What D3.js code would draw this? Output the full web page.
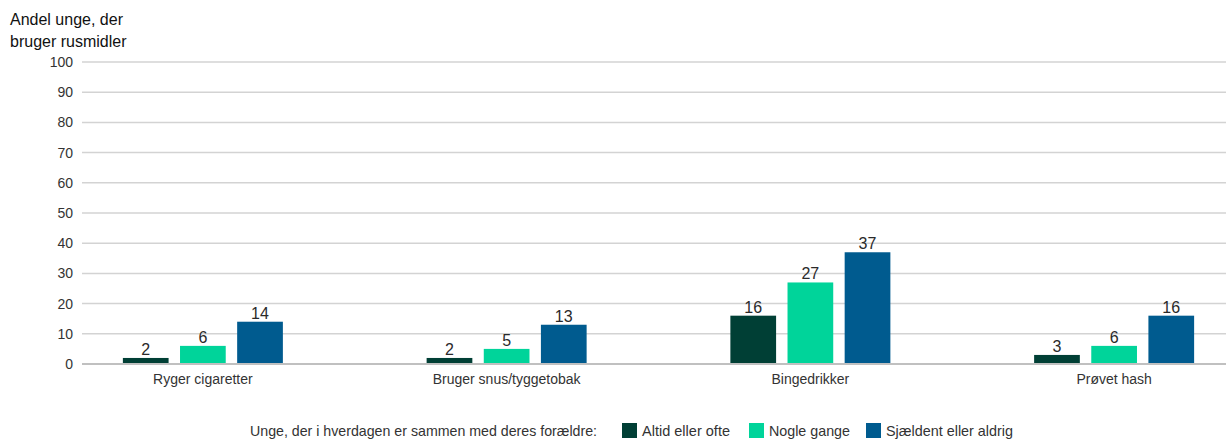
<!DOCTYPE html>
<html><head><meta charset="utf-8">
<script src="https://cdn.jsdelivr.net/npm/d3@7"></script>
<style>body{margin:0;background:#fff}svg{display:block;font-family:"Liberation Sans",Arial,sans-serif}</style>
</head><body><svg id="c" width="1226" height="439"></svg>
<script>
const categories = ["Ryger cigaretter","Bruger snus/tyggetobak","Bingedrikker","Prøvet hash"];
const seriesNames = ["Altid eller ofte","Nogle gange","Sjældent eller aldrig"];
const altid = [2,2,16,3];
const nogle = [6,5,27,6];
const sjaeldent = [14,13,37,16];
const yTicks = [0,10,20,30,40,50,60,70,80,90,100];
const colors = ["#003f35","#00d49a","#005b8f"];
const titleLines = ["Andel unge, der","bruger rusmidler"];
const legendTitle = "Unge, der i hverdagen er sammen med deres forældre:";

const series = [altid, nogle, sjaeldent];
const svg = d3.select("#c");
const y = d3.scaleLinear().domain([0,100]).range([364,62]);
const x0 = d3.scaleBand().domain(categories).range([51,1266]);
const x1 = d3.scaleBand().domain(seriesNames).range([0,160]).paddingInner(0.2).paddingOuter(0);
const gridL = 82, gridR = 1226;

// gridlines
svg.append("g").selectAll("line").data(yTicks.filter(d=>d>0)).join("line")
  .attr("x1",gridL).attr("x2",gridR).attr("y1",d=>y(d)).attr("y2",d=>y(d))
  .attr("stroke","#d3d3d3").attr("stroke-width",1.5);

// y axis labels
const yAxis = d3.axisLeft(y).tickValues(yTicks).tickSize(0).tickPadding(0);
const ya = svg.append("g").attr("transform","translate(73,0)").call(yAxis);
ya.select(".domain").remove();
ya.selectAll("text").attr("font-size",14).attr("fill","#333").attr("font-family","Liberation Sans, Arial, sans-serif");

// bars
const groups = svg.append("g").selectAll("g").data(categories).join("g")
  .attr("transform",c=>`translate(${x0(c)+x0.bandwidth()/2-80},0)`);
groups.each(function(c,ci){
  const g = d3.select(this);
  seriesNames.forEach((s,si)=>{
    const v = series[si][ci];
    g.append("rect").attr("x",x1(s)).attr("width",x1.bandwidth())
      .attr("y",y(v)).attr("height",y(0)-y(v)).attr("fill",colors[si]);
    g.append("text").attr("x",x1(s)+x1.bandwidth()/2).attr("y",y(v)-3)
      .attr("text-anchor","middle").attr("font-size",16).attr("fill","#2a2a2a").text(v);
  });
});

// baseline
svg.append("line").attr("x1",gridL).attr("x2",gridR).attr("y1",y(0)).attr("y2",y(0))
  .attr("stroke","#c0c0c0").attr("stroke-width",2);

// category labels
const xAxis = d3.axisBottom(x0).tickSize(0).tickPadding(0);
const xa = svg.append("g").attr("transform",`translate(0,${y(0)})`).call(xAxis);
xa.select(".domain").remove();
xa.selectAll("text").attr("font-size",14).attr("fill","#333").attr("dy",0).attr("y",20)
  .attr("font-family","Liberation Sans, Arial, sans-serif");

// title
svg.append("text").attr("x",10).attr("y",25).attr("font-size",16).attr("fill","#111")
  .selectAll("tspan").data(titleLines).join("tspan").attr("x",10).attr("dy",(d,i)=>i?22:0).text(d=>d);

// legend
const lg = svg.append("g").attr("font-size",15).attr("fill","#333");
lg.append("text").attr("x",250).attr("y",436).attr("textLength",347).attr("lengthAdjust","spacingAndGlyphs").text(legendTitle);
const lx = [622,749,866];
const lw = [88,81,127];
seriesNames.forEach((s,i)=>{
  lg.append("rect").attr("x",lx[i]).attr("y",423).attr("width",15).attr("height",15).attr("fill",colors[i]);
  lg.append("text").attr("x",lx[i]+20).attr("y",436).attr("textLength",lw[i]).attr("lengthAdjust","spacingAndGlyphs").text(s);
});
</script></body></html>
